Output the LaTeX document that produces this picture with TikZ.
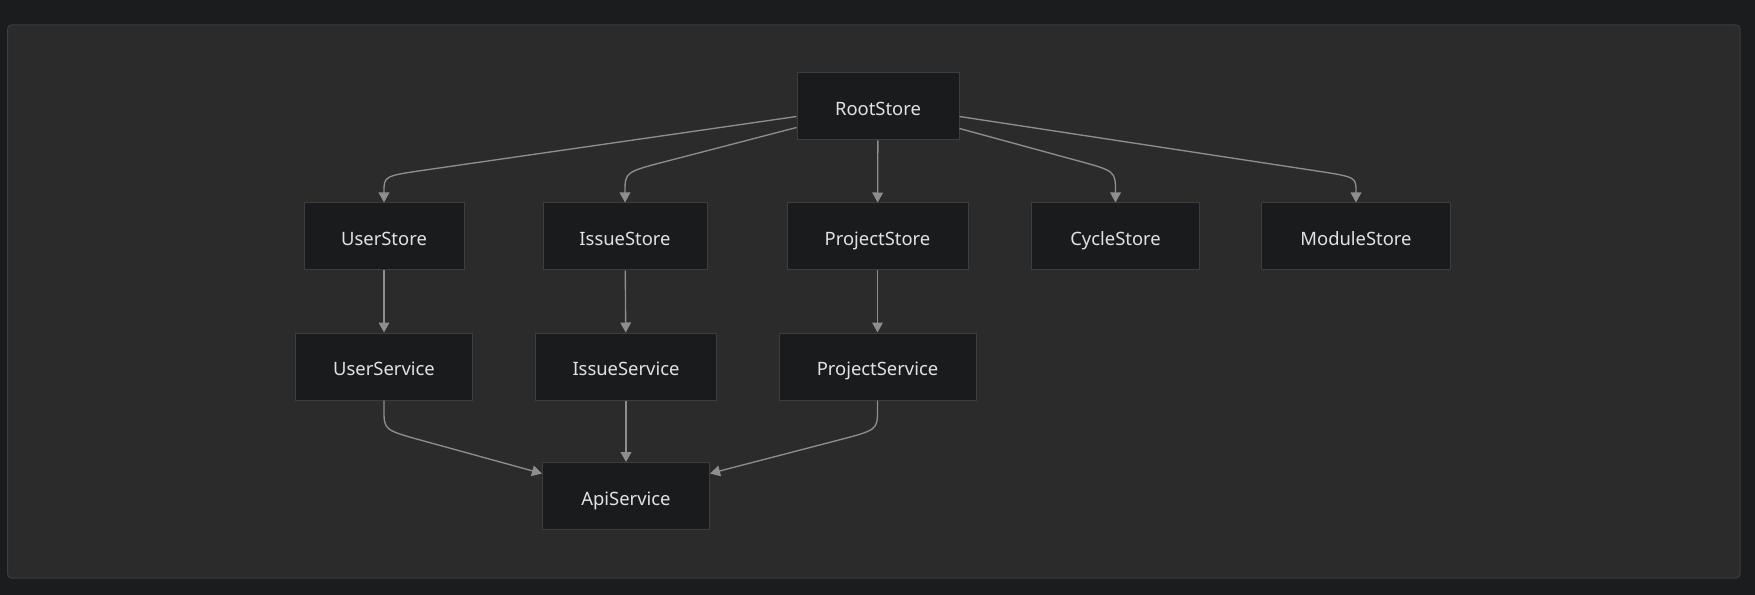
\documentclass[tikz,border=0pt]{standalone}
\usepackage{fontspec}
\setmainfont{Noto Sans}
\usetikzlibrary{arrows.meta,calc}

\definecolor{pagebg}{HTML}{1B1C1E}
\definecolor{panelbg}{HTML}{2B2B2B}
\definecolor{panelline}{HTML}{3A3D41}
\definecolor{boxfill}{HTML}{1A1B1D}
\definecolor{boxline}{HTML}{3A3D42}
\definecolor{boxtext}{HTML}{E2E2E2}
\definecolor{edgecol}{HTML}{8E8E8E}

\tikzset{
  store/.style={draw=boxline, fill=boxfill, text=boxtext, line width=0.75pt,
    minimum height=50.25pt, inner sep=0pt, text height=14pt, text depth=0pt,
    font=\fontsize{13.8}{16}\selectfont},
  link/.style={draw=edgecol, line width=1pt, -{Triangle[length=7.5pt,width=8pt]}}
}

\begin{document}
\begin{tikzpicture}[x=0.75pt,y=-0.75pt]
    % Background
    \fill[pagebg] (0,0) rectangle (1755,595);
    \draw[panelline, fill=panelbg, rounded corners=3pt, line width=0.75pt] (7.5,25) rectangle (1740,578);
    \useasboundingbox (0,0) rectangle (1755,595);
    % Nodes
    \node[store, minimum width=121.5pt] (root) at (878,106.5) {RootStore};

    \node[store, minimum width=120pt] (user) at (384,236.5) {UserStore};
    \node[store, minimum width=123pt] (issue) at (625,236.5) {IssueStore};
    \node[store, minimum width=135.75pt] (project) at (877.5,236.5) {ProjectStore};
    \node[store, minimum width=126pt] (cycle) at (1115.5,236.5) {CycleStore};
    \node[store, minimum width=141.75pt] (module) at (1356,236.5) {ModuleStore};

    \node[store, minimum width=132.75pt] (usersvc) at (384,366.5) {UserService};
    \node[store, minimum width=135.75pt] (issuesvc) at (626,366.5) {IssueService};
    \node[store, minimum width=147.75pt] (projectsvc) at (877.5,366.5) {ProjectService};

    \node[store, minimum width=125.25pt] (api) at (626,496) {ApiService};
    % Connection
    \draw[link] ($(root.west)+(0,10)$) -- (425.3,170) .. controls (384,176) .. (384,192) -- (user.north);
    \draw[link] ($(root.west)+(0,21)$) -- (668,160.9) .. controls (625,172) .. (625,192) -- (issue.north);
    \draw[link] (root) -- (project);
    \draw[link] ($(root.east)+(0,22)$) -- (1076.4,160.4) .. controls (1115.5,171) .. (1115.5,192) -- (cycle.north);
    \draw[link] ($(root.east)+(0,10)$) -- (1316.3,170.9) .. controls (1356,177) .. (1356,192) -- (module.north);

    \draw[link] (user) -- (usersvc);
    \draw[link] (issue) -- (issuesvc);
    \draw[link] (project) -- (projectsvc);

    \draw[link] (usersvc.south) -- (384,410) .. controls (384,430) .. (423.5,440.9) -- ($(api.west)+(0,-22.5)$);
    \draw[link] (issuesvc) -- (api);
    \draw[link] (projectsvc.south) -- (877.5,410) .. controls (877.5,430) .. (835.4,440.9) -- ($(api.east)+(0,-22.5)$);
\end{tikzpicture}
\end{document}
